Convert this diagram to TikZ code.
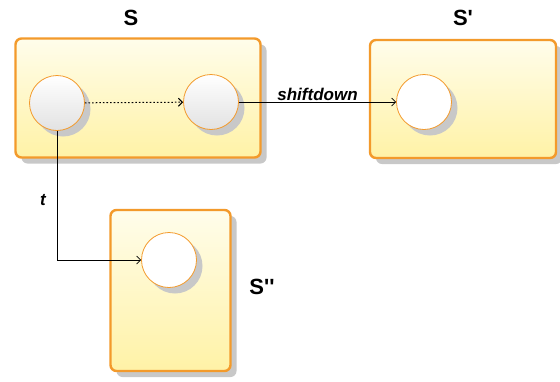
\documentclass[tikz,border=0pt]{standalone}
\usepackage{fontspec}
\setmainfont{Liberation Sans}
\usetikzlibrary{arrows.meta,shadows}
\definecolor{stateorange}{HTML}{F39A2B}
\definecolor{statetop}{HTML}{FFFDEB}
\definecolor{statebottom}{HTML}{FFF2A6}
\definecolor{shadowgray}{HTML}{C8C8C8}
\definecolor{ballgray}{HTML}{E2E2E2}
\tikzset{
  statebox/.style={draw=stateorange, line width=2.4pt, rounded corners=6pt,
    top color=statetop, bottom color=statebottom, inner sep=0pt,
    drop shadow={shadow xshift=6pt, shadow yshift=-6pt, fill=shadowgray, opacity=1}},
  ball/.style={circle, draw=stateorange, line width=0.8pt, minimum size=55pt, inner sep=0pt,
    top color=white, bottom color=ballgray,
    drop shadow={shadow xshift=6pt, shadow yshift=-6pt, fill=shadowgray, opacity=1}},
  emptyball/.style={ball, top color=white, bottom color=white},
  title/.style={font=\bfseries\fontsize{22}{24}\selectfont},
  trans/.style={font=\bfseries\itshape\fontsize{17}{19}\selectfont},
  link/.style={line width=0.7pt, -{Straight Barb[length=4pt,width=8pt]}}
}
\begin{document}
\begin{tikzpicture}[x=1pt,y=-1pt]
  \useasboundingbox[fill=white] (0,0) rectangle (560,381);
  % state containers
  \node[statebox, minimum width=245pt, minimum height=119pt] (S)   at (138,98) {};
  \node[statebox, minimum width=186pt, minimum height=118pt] (S1)  at (463,99) {};
  \node[statebox, minimum width=120pt, minimum height=161pt] (S2)  at (170.5,290.5) {};
  % titles
  \node[title] (tS)  at (131,18) {S};
  \node[title] (tS1) at (463,18) {S\textquotesingle};
  \node[title] (tS2) at (262,287) {S\textquotesingle\textquotesingle};
  % inner states
  \node[ball] (a) at (57,103) {};
  \node[ball] (b) at (211,102) {};
  \node[emptyball] (c) at (424,102) {};
  \node[emptyball] (d) at (169,260) {};
  % transitions
  \draw[link, line width=1pt, dash pattern=on 1.6pt off 2pt] (a) -- (b);
  \draw[link] (b) -- node[trans, above=-2pt] (lsd) {shiftdown} (c);
  \draw[link] (a.south) |- (d.west);
  \node[trans] (lt) at (43,200) {t};
\end{tikzpicture}
\end{document}
